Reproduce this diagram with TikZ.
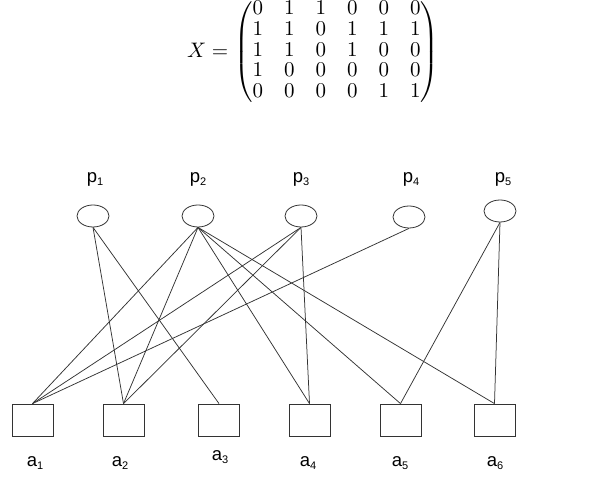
\documentclass[tikz,border=0pt]{standalone}
\usepackage{amsmath}
\usepackage{fontspec}
\newfontfamily\lblfont{Liberation Sans}
\usetikzlibrary{shapes.geometric}
\newcommand{\lbl}[2]{#1\raisebox{-3.5pt}{\fontsize{11}{11}\selectfont #2}}
\tikzset{
  pnode/.style={ellipse, draw=black!80, line width=0.8pt, minimum width=32pt, minimum height=22pt, inner sep=0pt},
  anode/.style={rectangle, draw=black!80, line width=0.8pt, minimum width=41pt, minimum height=32pt, inner sep=0pt},
  tag/.style={font=\lblfont\fontsize{18.5}{20}\selectfont, inner sep=0pt},
  link/.style={draw=black!80, line width=0.75pt}
}
\begin{document}
\begin{tikzpicture}[x=1pt,y=1pt]
  \useasboundingbox (0,0) rectangle (594,492);
  % incidence matrix
  \node[scale=2.1] (X) at (313,440) {\renewcommand{\arraystretch}{0.82}$X = \begin{pmatrix}
    0 & 1 & 1 & 0 & 0 & 0\\
    1 & 1 & 0 & 1 & 1 & 1\\
    1 & 1 & 0 & 1 & 0 & 0\\
    1 & 0 & 0 & 0 & 0 & 0\\
    0 & 0 & 0 & 0 & 1 & 1
  \end{pmatrix}$};

  % p row
  \node[pnode] (p1) at (93,276) {};
  \node[pnode] (p2) at (198,276) {};
  \node[pnode] (p3) at (301,276) {};
  \node[pnode] (p4) at (409,275) {};
  \node[pnode] (p5) at (500,281) {};
  \node[tag] (lp1) at (95,313) {\lbl{p}{1}};
  \node[tag] (lp2) at (198,313) {\lbl{p}{2}};
  \node[tag] (lp3) at (301,313) {\lbl{p}{3}};
  \node[tag] (lp4) at (411,313) {\lbl{p}{4}};
  \node[tag] (lp5) at (503,313) {\lbl{p}{5}};

  % a row
  \node[anode] (a1) at (32.5,72) {};
  \node[anode] (a2) at (123.5,72) {};
  \node[anode] (a3) at (219,72) {};
  \node[anode] (a4) at (309.5,72) {};
  \node[anode] (a5) at (400.5,72) {};
  \node[anode] (a6) at (494.5,72) {};
  \node[tag] (la1) at (35,29) {\lbl{a}{1}};
  \node[tag] (la2) at (120,29) {\lbl{a}{2}};
  \node[tag] (la3) at (220,35) {\lbl{a}{3}};
  \node[tag] (la4) at (308,29) {\lbl{a}{4}};
  \node[tag] (la5) at (400,29) {\lbl{a}{5}};
  \node[tag] (la6) at (495,29) {\lbl{a}{6}};

  % edges, one row of X per p
  \draw[link] (p1.south) -- (a2.north);
  \draw[link] (p1.south) -- (a3.north);
  \draw[link] (p2.south) -- (a1.north);
  \draw[link] (p2.south) -- (a2.north);
  \draw[link] (p2.south) -- (a4.north);
  \draw[link] (p2.south) -- (a5.north);
  \draw[link] (p2.south) -- (a6.north);
  \draw[link] (p3.south) -- (a1.north);
  \draw[link] (p3.south) -- (a2.north);
  \draw[link] (p3.south) -- (a4.north);
  \draw[link] (p4.south) -- (a1.north);
  \draw[link] (p5.south) -- (a5.north);
  \draw[link] (p5.south) -- (a6.north);
\end{tikzpicture}
\end{document}
